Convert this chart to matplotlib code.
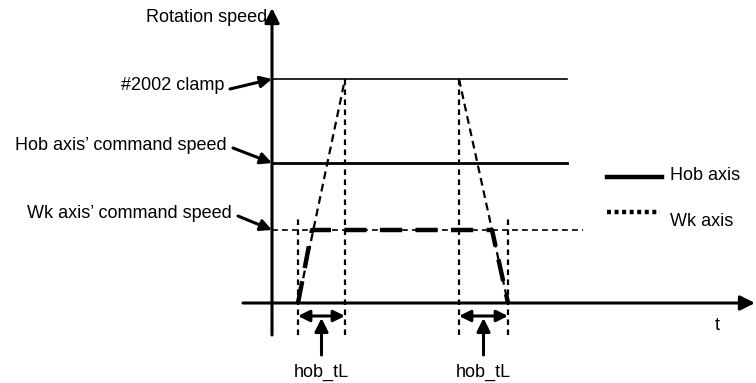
import matplotlib.pyplot as plt

plt.rcParams['font.family'] = ['Liberation Sans', 'DejaVu Sans']

# speed levels (arbitrary units)
clamp_speed = 22.4
hob_cmd_speed = 14.0
wk_cmd_speed = 7.3

# time points (arbitrary units)
t_acc_start = 2.6     # acceleration starts
t_wk_reach = 4.0      # Wk axis reaches its command speed
t_clamp_reach = 7.3   # line reaches #2002 clamp
t_clamp_leave = 18.7
t_wk_leave = 22.0
t_dec_end = 23.6
t_line_end = 29.5
t_wk_line_end = 31.1

# ramps up to the clamp and the Wk trapezoid
ramp_up_t = [t_acc_start, t_clamp_reach]
ramp_up_v = [0, clamp_speed]
ramp_down_t = [t_clamp_leave, t_dec_end]
ramp_down_v = [clamp_speed, 0]
wk_t = [t_acc_start, t_wk_reach, t_wk_leave, t_dec_end]
wk_v = [0, wk_cmd_speed, wk_cmd_speed, 0]

left_labels = ['#2002 clamp', "Hob axis\u2019 command speed", "Wk axis\u2019 command speed"]
left_levels = [clamp_speed, hob_cmd_speed, wk_cmd_speed]


def run_main():
    fig = plt.figure(figsize=(7.56, 3.83), dpi=100)
    ax = fig.add_axes([0, 0, 1, 1])
    ax.set_xlim(-27.2, 48.4)
    ax.set_ylim(-8.0, 30.3)
    ax.axis('off')

    arr = dict(arrowstyle='-|>', lw=2.2, color='k', mutation_scale=22, shrinkA=0, shrinkB=0)
    # coordinate axes
    ax.annotate('', xy=(48.3, 0), xytext=(-2.9, 0), arrowprops=arr, annotation_clip=False)
    ax.annotate('', xy=(0, 29.5), xytext=(0, -3.2), arrowprops=arr, annotation_clip=False)
    ax.text(-0.5, 28.6, 'Rotation speed', ha='right', va='center', fontsize=13)
    ax.text(44.5, -2.2, 't', ha='center', va='center', fontsize=13)

    # reference speed lines
    ax.plot([0, t_line_end], [clamp_speed] * 2, color='k', lw=1.2)
    ax.plot([0, t_line_end], [hob_cmd_speed] * 2, color='k', lw=2.0)
    ax.plot([0, t_wk_line_end], [wk_cmd_speed] * 2, color='k', lw=1.2, dashes=(3.5, 2.5))

    # vertical helper lines
    for t, top in [(t_acc_start, 8.8), (t_clamp_reach, clamp_speed),
                   (t_clamp_leave, clamp_speed), (t_dec_end, 8.8)]:
        ax.plot([t, t], [-3.2, top], color='k', lw=1.6, dashes=(2.5, 2.0))

    # trajectories
    ax.plot(ramp_up_t, ramp_up_v, color='k', lw=1.6, dashes=(3.5, 2.2))
    ax.plot(ramp_down_t, ramp_down_v, color='k', lw=1.6, dashes=(3.5, 2.2))
    ax.plot(wk_t, wk_v, color='k', lw=3.2, dashes=(5, 3))

    # left labels with arrows
    small = dict(arr, mutation_scale=17)
    tails = [(-4.2, 21.4), (-3.9, 15.5), (-3.4, 8.7)]
    for lab, lev, (tx, ty) in zip(left_labels, left_levels, tails):
        ax.annotate('', xy=(0, lev), xytext=(tx, ty), arrowprops=small)
        ax.text(tx - 0.6, ty + 0.3, lab, ha='right', va='center', fontsize=13)

    # hob_tL markers
    for a, b in [(t_acc_start, t_clamp_reach), (t_clamp_leave, t_dec_end)]:
        ax.annotate('', xy=(b, -1.3), xytext=(a, -1.3),
                    arrowprops=dict(arr, arrowstyle='<|-|>', mutation_scale=17))
        mid = (a + b) / 2
        ax.annotate('', xy=(mid, -1.5), xytext=(mid, -5.2),
                    arrowprops=dict(arr, mutation_scale=20))
        ax.text(mid, -6.9, 'hob_tL', ha='center', va='center', fontsize=13)

    # legend
    ax.plot([33.5, 39.0], [12.6, 12.6], color='k', lw=3.2)
    ax.text(39.8, 12.8, 'Hob axis', ha='left', va='center', fontsize=13)
    ax.plot([33.5, 38.8], [9.1, 9.1], color='k', lw=3.2, dashes=(0.9, 0.8))
    ax.text(39.8, 8.1, 'Wk axis', ha='left', va='center', fontsize=13)

    fig.savefig('out.png', dpi=100)


if __name__ == '__main__':
    run_main()
